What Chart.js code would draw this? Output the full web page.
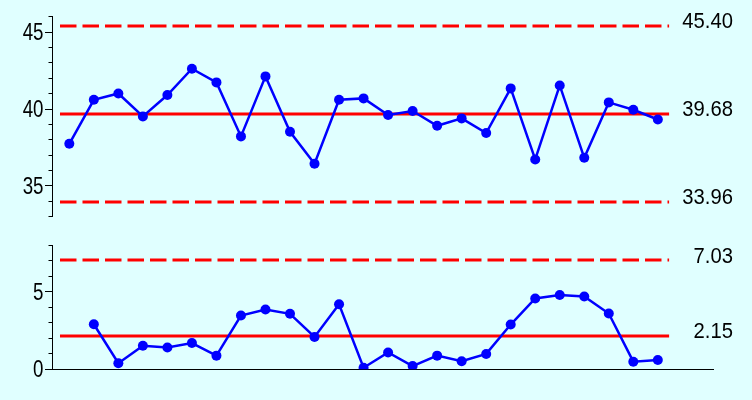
<!DOCTYPE html>
<html>
<head>
<meta charset="utf-8">
<script src="https://cdn.jsdelivr.net/npm/chart.js@4/dist/chart.umd.min.js"></script>
<style>
  html, body { margin: 0; padding: 0; background: #E0FFFF; }
  #wrap { position: relative; width: 752px; height: 400px; overflow: hidden; background: #E0FFFF; }
  .box { position: absolute; left: 0; width: 752px; }
  #top { top: 0; height: 240px; }
  #bot { top: 220px; height: 180px; }
</style>
</head>
<body>
<div id="wrap">
  <div class="box" id="top"><canvas id="c1"></canvas></div>
  <div class="box" id="bot"><canvas id="c2"></canvas></div>
</div>
<script>
// ---- data ----
const samples = [1,2,3,4,5,6,7,8,9,10,11,12,13,14,15,16,17,18,19,20,21,22,23,24,25];
const individuals = [37.74, 40.60, 41.01, 39.52, 40.91, 42.62, 41.73, 38.22, 42.12, 38.52,
                     36.44, 40.60, 40.69, 39.61, 39.87, 38.91, 39.39, 38.44, 41.34, 36.72,
                     41.53, 36.83, 40.43, 39.95, 39.32];
const movingRanges = [null, 2.90, 0.39, 1.51, 1.40, 1.69, 0.88, 3.46, 3.85, 3.57,
                      2.08, 4.19, 0.10, 1.08, 0.21, 0.88, 0.52, 0.99, 2.88, 4.56,
                      4.78, 4.68, 3.59, 0.49, 0.60];
const indLimits = { ucl: 45.40, cl: 39.68, lcl: 33.96 };
const mrLimits = { ucl: 7.03, cl: 2.15 };
const indLabels = ["45.40", "39.68", "33.96"];
const mrLabels = ["7.03", "2.15"];
const indTickLabels = [35, 40, 45];
const mrTickLabels = [0, 5];
const limitSpan = [0.62, 25.46];

const BLUE = '#0000FF', RED = '#FF0000';
const FONT = "'Liberation Sans', Arial, sans-serif";

function limitLine(y, dashed) {
  return {
    data: [{x: limitSpan[0], y: y}, {x: limitSpan[1], y: y}],
    borderColor: RED, borderWidth: 3, borderDash: dashed ? [16.5, 6] : [],
    pointRadius: 0, fill: false, tension: 0, order: 5, borderCapStyle: 'butt'
  };
}
function series(vals) {
  return {
    data: samples.map((s, i) => ({x: s, y: vals[i]})),
    borderColor: BLUE, backgroundColor: BLUE, borderWidth: 2.5,
    pointRadius: 5, pointHoverRadius: 5, pointBackgroundColor: BLUE, pointBorderWidth: 0,
    fill: false, tension: 0, spanGaps: false, order: 1
  };
}
function drawSqueezed(ctx, text, x, y, sx) {
  ctx.save();
  ctx.translate(x, y);
  ctx.scale(sx, 1);
  ctx.fillText(text, 0, 0);
  ctx.restore();
}
const labelPlugin = {
  id: 'limitLabels',
  afterDraw(chart, args, opts) {
    const ctx = chart.ctx, ys = chart.scales.y;
    ctx.save();
    ctx.fillStyle = '#000';
    ctx.textAlign = 'right';
    ctx.textBaseline = 'middle';
    // control limit values on the right
    ctx.font = "22px " + FONT;
    opts.items.forEach(it => {
      drawSqueezed(ctx, it.t, 733, ys.getPixelForValue(it.v) - 3.5, 0.92);
    });
    // axis tick labels (narrow face)
    ctx.font = "24px " + FONT;
    opts.ticks.forEach(v => {
      drawSqueezed(ctx, String(v), ys.left + 43.5, ys.getPixelForValue(v) + 1.5, 0.78);
    });
    ctx.restore();
  }
};
function yAxis(min, max) {
  return {
    type: 'linear', min: min, max: max,
    afterFit: (s) => { s.width = 52; },
    border: { display: true, color: '#000', width: 1 },
    grid: {
      display: true, drawOnChartArea: false, drawTicks: true, tickLength: 7,
      tickColor: '#000', tickWidth: 1,
      tickBorderDash: (c) => (c.tick && c.tick.value % 5 === 0) ? [] : [0, 3.5, 3.5]
    },
    ticks: { stepSize: 1, display: false, autoSkip: false }
  };
}
function xAxis(showLine) {
  return {
    type: 'linear', min: 0.294, max: 27.25, display: showLine,
    border: { display: showLine, color: '#000', width: 1 },
    grid: { display: false, drawTicks: false },
    ticks: { display: false }
  };
}
const common = {
  responsive: true, maintainAspectRatio: false, animation: false,
  plugins: { legend: { display: false }, tooltip: { enabled: false } },
  events: []
};

new Chart(document.getElementById('c1'), {
  type: 'line',
  data: { datasets: [
    series(individuals),
    limitLine(indLimits.ucl, true),
    limitLine(indLimits.cl, false),
    limitLine(indLimits.lcl, true)
  ]},
  options: Object.assign({}, common, {
    layout: { padding: { left: 0, right: 39, top: 16.7, bottom: 23.3 } },
    scales: { x: xAxis(false), y: yAxis(33, 46) },
    plugins: Object.assign({}, common.plugins, {
      limitLabels: {
        items: [
          {v: indLimits.ucl, t: indLabels[0]},
          {v: indLimits.cl, t: indLabels[1]},
          {v: indLimits.lcl, t: indLabels[2]}
        ],
        ticks: indTickLabels
      }
    })
  }),
  plugins: [labelPlugin]
});

new Chart(document.getElementById('c2'), {
  type: 'line',
  data: { datasets: [
    series(movingRanges),
    limitLine(mrLimits.ucl, true),
    limitLine(mrLimits.cl, false)
  ]},
  options: Object.assign({}, common, {
    layout: { padding: { left: 0, right: 39, top: 25, bottom: 30.7 } },
    scales: { x: xAxis(true), y: yAxis(0, 8) },
    plugins: Object.assign({}, common.plugins, {
      limitLabels: {
        items: [
          {v: mrLimits.ucl, t: mrLabels[0]},
          {v: mrLimits.cl, t: mrLabels[1]}
        ],
        ticks: mrTickLabels
      }
    })
  }),
  plugins: [labelPlugin]
});
</script>
</body>
</html>
